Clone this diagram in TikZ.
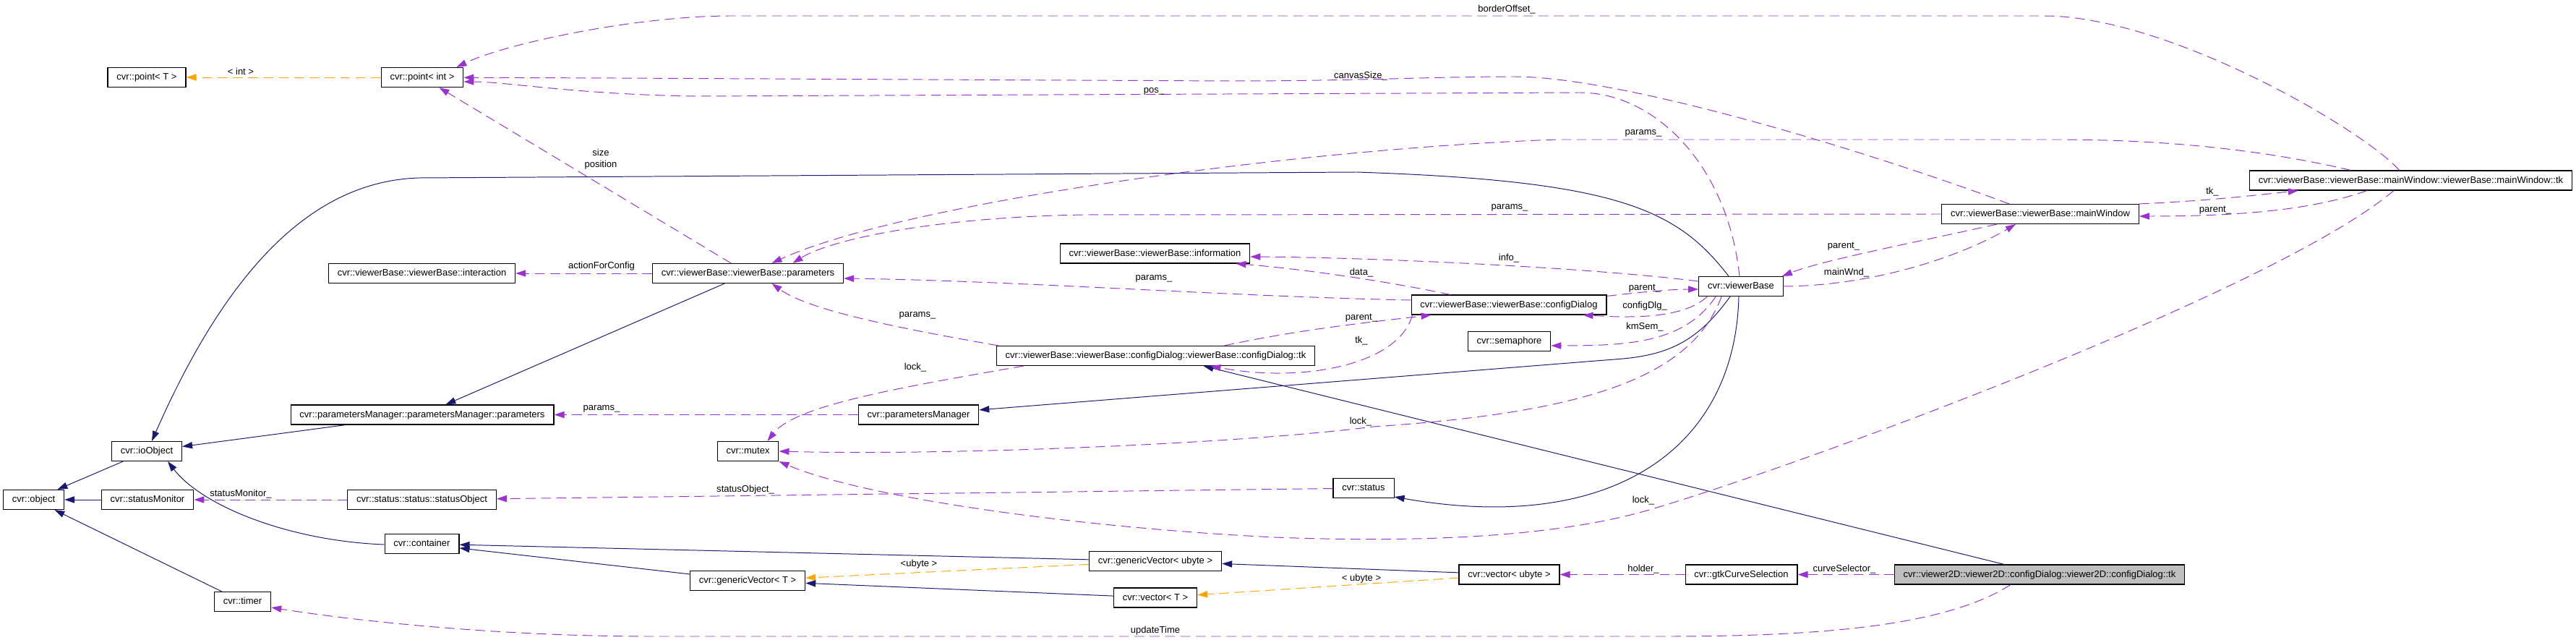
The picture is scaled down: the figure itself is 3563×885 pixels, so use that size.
\documentclass[tikz,border=0pt]{standalone}
\usepackage{fontspec}
\setmainfont{Liberation Sans}
\usetikzlibrary{arrows.meta,calc}
\definecolor{inhcol}{HTML}{191970}
\definecolor{usecol}{HTML}{9A32CD}
\definecolor{tplcol}{HTML}{FFA500}
\begin{document}
\begin{tikzpicture}[x=0.025cm,y=-0.025cm,
  every node/.style={font=\fontsize{9.25}{11}\selectfont},
  cls/.style={draw,line width=0.8pt,fill=white,minimum height=0.675cm,inner xsep=0.31cm,inner ysep=0pt,text height=0.72em,text depth=0.2em},
  inh/.style={draw=inhcol,line width=0.7pt,-{Triangle[length=3.5mm,width=2.3mm]}},
  use/.style={draw=usecol,line width=0.7pt,dash pattern=on 3.4mm off 1.9mm,-{Triangle[length=3.5mm,width=2.3mm]}},
  tpl/.style={draw=tplcol,line width=0.7pt,dash pattern=on 3.4mm off 1.9mm,-{Triangle[length=3.5mm,width=2.3mm]}},
  lbl/.style={inner sep=0pt}]
\useasboundingbox (0,0) rectangle (3563,885);
% classes
\node[cls] (pointT) at (203,107) {cvr::point< T >};
\node[cls] (pointInt) at (584,107) {cvr::point< int >};
\node[cls] (interaction) at (583.5,378) {cvr::viewerBase::viewerBase::interaction};
\node[cls] (vbParams) at (1034.5,378) {cvr::viewerBase::viewerBase::parameters};
\node[cls] (vbInfo) at (1597.5,350.5) {cvr::viewerBase::viewerBase::information};
\node[cls] (vbConfig) at (2087,421.5) {cvr::viewerBase::viewerBase::configDialog};
\node[cls] (vb) at (2408,396) {cvr::viewerBase};
\node[cls] (vbMain) at (2822,296) {cvr::viewerBase::viewerBase::mainWindow};
\node[cls] (vbMainTk) at (3334.5,249.5) {cvr::viewerBase::viewerBase::mainWindow::viewerBase::mainWindow::tk};
\node[cls] (vbConfigTk) at (1598.5,492) {cvr::viewerBase::viewerBase::configDialog::viewerBase::configDialog::tk};
\node[cls] (semaphore) at (2087.5,472) {cvr::semaphore};
\node[cls] (pmParams) at (584,573.5) {cvr::parametersManager::parametersManager::parameters};
\node[cls] (paramsManager) at (1270.5,573.5) {cvr::parametersManager};
\node[cls] (io) at (203,624) {cvr::ioObject};
\node[cls] (mutex) at (1034.5,624) {cvr::mutex};
\node[cls] (object) at (46.5,691) {cvr::object};
\node[cls] (statusMonitor) at (204,691) {cvr::statusMonitor};
\node[cls] (statusObject) at (583.5,691) {cvr::status::status::statusObject};
\node[cls] (status) at (1886,675) {cvr::status};
\node[cls] (container) at (583.5,752) {cvr::container};
\node[cls] (gvUbyte) at (1598,776) {cvr::genericVector< ubyte >};
\node[cls] (gvT) at (1034,803) {cvr::genericVector< T >};
\node[cls] (vecT) at (1598,826.5) {cvr::vector< T >};
\node[cls] (vecUbyte) at (2087.5,794.5) {cvr::vector< ubyte >};
\node[cls] (gtkCurve) at (2408.5,794.5) {cvr::gtkCurveSelection};
\node[cls,fill=gray!50] (v2dTk) at (2821,794.5) {cvr::viewer2D::viewer2D::configDialog::viewer2D::configDialog::tk};
\node[cls] (timer) at (335.5,832) {cvr::timer};
% template instances
\draw[tpl] (pointInt) -- (pointT);
\draw[tpl] (gvUbyte) -- (gvT);
\draw[tpl] (vecUbyte) -- (vecT);
% inheritance
\draw[inh] (io) -- (object);
\draw[inh] (statusMonitor) -- (object);
\draw[inh] (timer) -- (object);
\draw[inh] (pmParams) -- (io);
\draw[inh] ($(container.west)+(0,1)$) .. controls (400,748) and (280,700) .. ($(io.south)+(29,0)$);
\draw[inh] (vbParams) -- (pmParams);
\draw[inh] ($(vb.north)+(-17,0)$) .. controls (2320,290) and (2240,250) .. (1876,238) -- (580,246) .. controls (440,250) and (320,360) .. ($(io.north)+(7,0)$);
\draw[inh] ($(vb.south)+(-15,0)$) .. controls (2350,470) and (2310,490) .. (2245,496) -- (paramsManager);
\draw[inh] ($(vb.south)+(-3,0)$) .. controls (2400,620) and (2230,740) .. ($(status.south east)+(0,-2)$);
\draw[inh] ($(v2dTk.north)+(-49,0)$) -- ($(vbConfigTk.south)+(66,0)$);
\draw[inh] (gvUbyte) -- (container);
\draw[inh] (gvT) -- (container);
\draw[inh] (vecT) -- (gvT);
\draw[inh] (vecUbyte) -- (gvUbyte);
% members
\draw[use] ($(vbMainTk.north)+(-16,0)$) .. controls (3270,180) and (3000,22) .. (2827,22) -- (1011,22) .. controls (880,22) and (700,60) .. ($(pointInt.north east)+(-10,0)$);
\draw[use] ($(vbMain.north)+(-43,0)$) .. controls (2600,215) and (2250,106) .. (2094,106) .. controls (1980,106) and (1880,112) .. (1700,112) -- (850,108) -- (pointInt);
\draw[use] ($(vb.north)+(-2,0)$) .. controls (2390,230) and (2290,128) .. (2185,128) -- (965,133) .. controls (800,131) and (700,113) .. ($(pointInt.east)+(0,6)$);
\draw[use] (vbParams) -- (pointInt);
\draw[use] ($(vbMainTk.north)+(-83,0)$) .. controls (3100,200) and (2950,193) .. (2846,193) -- (2154,193) .. controls (1800,205) and (1250,280) .. ($(vbParams.north)+(33,0)$);
\draw[use] (vbMain.west) -- (1500,297) .. controls (1300,300) and (1150,330) .. ($(vbParams.north)+(62,0)$);
\draw[use] ($(vbConfig.west)+(0,-6.5)$) .. controls (1700,410) and (1400,388) .. ($(vbParams.east)+(0,7)$);
\draw[use] ($(vbConfigTk.north west)+(3,0)$) .. controls (1250,455) and (1120,430) .. ($(vbParams.south)+(33,0)$);
\draw[use] (vbParams) -- (interaction);
\draw[use] ($(vbConfig.north)+(-81,0)$) .. controls (1900,385) and (1780,370) .. ($(vbInfo.south east)+(-20,0)$);
\draw[use] ($(vb.west)+(0,-7)$) .. controls (2200,370) and (1900,356) .. ($(vbInfo.east)+(0,4.5)$);
\draw[use] ($(vbConfig.north east)+(0,2)$) .. controls (2270,404) and (2310,400) .. ($(vb.west)+(0,4)$);
\draw[use] ($(vb.south west)+(12,0)$) .. controls (2330,440) and (2260,440) .. ($(vbConfig.south east)+(-33,0)$);
\draw[use] ($(vb.south west)+(24,0)$) .. controls (2330,475) and (2250,478) .. ($(semaphore.east)+(0,6)$);
\draw[use] ($(vbConfigTk.north)+(95,0)$) .. controls (1800,455) and (1900,445) .. ($(vbConfig.south west)+(28,0)$);
\draw[use] ($(vbConfig.south west)+(2,0)$) .. controls (1935,505) and (1800,530) .. ($(vbConfigTk.south)+(76,0)$);
\draw[use] (vb.east) .. controls (2600,395) and (2720,350) .. ($(vbMain.south)+(-34,0)$);
\draw[use] ($(vbMain.south)+(-60,0)$) .. controls (2650,335) and (2520,360) .. ($(vb.north east)+(-2,0)$);
\draw[use] (vbMain.north east) .. controls (3050,278) and (3120,270) .. ($(vbMainTk.south west)+(68,0)$);
\draw[use] ($(vbMainTk.south west)+(163,0)$) .. controls (3200,290) and (3100,299) .. ($(vbMain.east)+(0,3)$);
\draw[use] ($(vbMainTk.south west)+(200,0)$) .. controls (3150,400) and (2500,640) .. (2288,703) .. controls (2150,745) and (1950,750) .. (1763,743) .. controls (1500,730) and (1200,690) .. (mutex.south east);
\draw[use] ($(vb.south west)+(32,0)$) .. controls (2340,520) and (2200,570) .. (1900,590) .. controls (1700,615) and (1300,630) .. (mutex.east);
\draw[use] ($(vbConfigTk.south west)+(38,0)$) .. controls (1250,535) and (1100,560) .. ($(mutex.north)+(27,0)$);
\draw[use] (status) -- (statusObject);
\draw[use] (statusObject) -- (statusMonitor);
\draw[use] (paramsManager) -- (pmParams);
\draw[use] (gtkCurve) -- (vecUbyte);
\draw[use] (v2dTk) -- (gtkCurve);
\draw[use] ($(v2dTk.south)+(-40,0)$) .. controls (2700,860) and (2550,880) .. (2306,880) -- (900,880) .. controls (700,880) and (500,860) .. ($(timer.east)+(0,8)$);
% labels
\node[lbl] (lInt) at (333,99) {< int >};
\node[lbl] (lBorder) at (2084,13) {borderOffset\_};
\node[lbl] (lCanvas) at (1882,105) {canvasSize\_};
\node[lbl] (lPos) at (1596,126) {pos\_};
\node[lbl,align=center] (lSize) at (831,220) {size\\position};
\node[lbl] (lParamsA) at (2273,184) {params\_};
\node[lbl] (lParamsB) at (2088,287) {params\_};
\node[lbl] (lParamsC) at (1596,385) {params\_};
\node[lbl] (lParamsD) at (1269,436) {params\_};
\node[lbl] (lAction) at (832,368) {actionForConfig};
\node[lbl] (lData) at (1883,377) {data\_};
\node[lbl] (lInfo) at (2087,357) {info\_};
\node[lbl] (lParentA) at (2275,399) {parent\_};
\node[lbl] (lConfigDlg) at (2275,423) {configDlg\_};
\node[lbl] (lKmSem) at (2275,452) {kmSem\_};
\node[lbl] (lParentB) at (1883,440) {parent\_};
\node[lbl] (lTkA) at (1883,471) {tk\_};
\node[lbl] (lMainWnd) at (2554,377) {mainWnd\_};
\node[lbl] (lParentC) at (2550,341) {parent\_};
\node[lbl] (lTkB) at (3060,265) {tk\_};
\node[lbl] (lParentD) at (3064,291) {parent\_};
\node[lbl] (lLockA) at (2273,692) {lock\_};
\node[lbl] (lLockB) at (1882,583) {lock\_};
\node[lbl] (lLockC) at (1266,508) {lock\_};
\node[lbl] (lStatusObj) at (1031,677) {statusObject\_};
\node[lbl] (lStatusMon) at (333,683) {statusMonitor\_};
\node[lbl] (lParamsE) at (832,565) {params\_};
\node[lbl] (lHolder) at (2273,787) {holder\_};
\node[lbl] (lCurveSel) at (2551,787) {curveSelector\_};
\node[lbl] (lUpdate) at (1598,872) {updateTime};
\node[lbl] (lUbyteA) at (1271,780) {<ubyte >};
\node[lbl] (lUbyteB) at (1883,800) {< ubyte >};
\end{tikzpicture}
\end{document}
